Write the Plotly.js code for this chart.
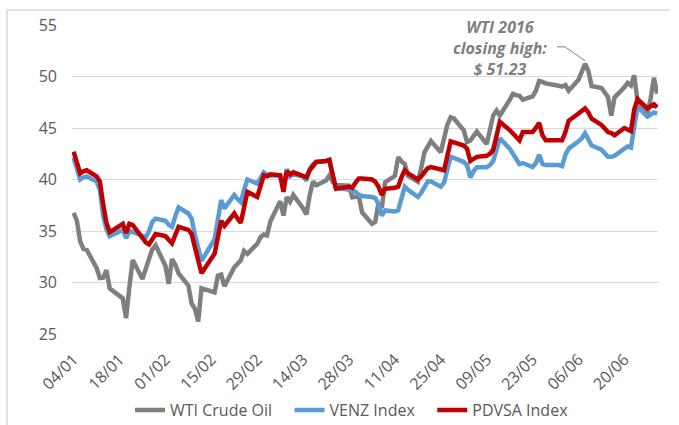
<!DOCTYPE html>
<html>
<head>
<meta charset="utf-8">
<script src="https://cdn.plot.ly/plotly-3.0.1.min.js"></script>
<style>html,body{margin:0;padding:0;background:#fff;}#chart{width:679px;height:425px;}</style>
</head>
<body>
<div id="chart"></div>
<script>
const dates = [
'2016-01-04','2016-01-05','2016-01-06','2016-01-07','2016-01-08',
'2016-01-11','2016-01-12','2016-01-13','2016-01-14','2016-01-15',
'2016-01-19','2016-01-20','2016-01-21','2016-01-22',
'2016-01-25','2016-01-26','2016-01-27','2016-01-28','2016-01-29',
'2016-02-01','2016-02-02','2016-02-03','2016-02-04','2016-02-05',
'2016-02-08','2016-02-09','2016-02-10','2016-02-11','2016-02-12',
'2016-02-16','2016-02-17','2016-02-18','2016-02-19',
'2016-02-22','2016-02-23','2016-02-24','2016-02-25','2016-02-26',
'2016-02-29','2016-03-01','2016-03-02','2016-03-03','2016-03-04',
'2016-03-07','2016-03-08','2016-03-09','2016-03-10','2016-03-11',
'2016-03-14','2016-03-15','2016-03-16','2016-03-17','2016-03-18',
'2016-03-21','2016-03-22','2016-03-23','2016-03-24',
'2016-03-28','2016-03-29','2016-03-30','2016-03-31','2016-04-01',
'2016-04-04','2016-04-05','2016-04-06','2016-04-07','2016-04-08',
'2016-04-11','2016-04-12','2016-04-13','2016-04-14','2016-04-15',
'2016-04-18','2016-04-19','2016-04-20','2016-04-21','2016-04-22',
'2016-04-25','2016-04-26','2016-04-27','2016-04-28','2016-04-29',
'2016-05-02','2016-05-03','2016-05-04','2016-05-05','2016-05-06',
'2016-05-09','2016-05-10','2016-05-11','2016-05-12','2016-05-13',
'2016-05-16','2016-05-17','2016-05-18','2016-05-19','2016-05-20',
'2016-05-23','2016-05-24','2016-05-25','2016-05-26','2016-05-27',
'2016-05-31','2016-06-01','2016-06-02','2016-06-03',
'2016-06-06','2016-06-07','2016-06-08','2016-06-09','2016-06-10',
'2016-06-13','2016-06-14','2016-06-15','2016-06-16','2016-06-17',
'2016-06-20','2016-06-21','2016-06-22','2016-06-23','2016-06-24',
'2016-06-27','2016-06-28','2016-06-29','2016-06-30'];

const wti = [
36.76,35.97,33.97,33.27,33.16,31.41,30.44,30.48,31.20,29.42,28.46,26.55,29.53,32.19,30.34,31.45,32.30,33.22,33.62,
31.62,29.88,32.28,31.72,30.89,29.69,27.94,27.45,26.21,29.44,29.04,30.66,30.77,29.64,31.48,31.87,32.15,33.07,32.78,33.75,
34.40,34.66,34.57,35.92,37.90,36.50,38.29,37.84,38.50,37.18,36.60,38.46,39.80,39.44,39.91,40.40,39.79,39.46,39.39,38.28,38.32,38.34,
36.79,35.70,35.89,37.75,37.26,39.72,40.36,42.17,41.76,41.50,40.36,39.78,41.08,42.63,43.18,43.73,42.64,44.04,45.33,46.03,45.92,
44.78,43.65,43.78,44.32,44.66,43.44,44.66,46.23,46.70,46.21,47.72,48.31,48.19,48.12,47.75,48.08,48.62,49.56,49.48,49.33,49.10,
49.01,49.17,48.62,49.69,50.36,51.23,50.56,49.07,48.88,48.49,48.01,46.21,47.98,48.96,49.37,49.13,50.11,47.64,46.33,47.85,49.88,48.33];

const venz = [
42.1,41.0,40.0,40.2,40.3,39.8,39.0,36.5,35.2,34.5,35.1,34.3,35.0,34.9,34.6,34.4,35.0,35.9,36.2,
36.0,35.6,35.4,36.4,37.3,36.7,36.2,34.6,33.3,32.1,34.2,36.0,38.0,37.2,38.5,38.1,37.8,39.0,40.0,39.6,
40.2,40.7,40.5,40.4,40.4,39.2,41.0,40.3,40.5,40.3,39.9,41.0,41.5,41.7,41.8,41.9,40.4,39.2,39.0,38.9,38.8,38.5,
38.4,38.3,38.2,37.6,36.5,37.0,36.9,37.0,38.3,39.3,39.0,38.3,38.7,39.3,39.8,39.8,39.3,39.7,41.0,42.2,42.1,
41.7,41.4,40.2,40.8,41.2,41.2,41.4,41.8,43.0,44.0,43.0,42.5,42.0,41.5,41.6,41.2,41.6,42.4,41.5,41.4,41.4,
41.3,42.4,43.0,43.7,44.0,44.5,43.9,43.3,42.9,42.6,42.2,42.2,42.3,43.0,43.2,43.1,45.5,47.1,46.1,46.3,46.5,46.4];

const pdvsa = [
42.7,41.5,40.6,40.8,40.9,40.3,39.8,37.6,35.8,34.9,35.7,34.8,35.7,35.6,34.3,33.9,33.7,34.3,34.7,
34.5,34.1,33.8,34.6,35.4,35.1,34.7,33.4,32.1,30.9,32.8,34.5,36.0,35.5,36.7,36.2,35.8,37.3,38.8,38.3,
39.5,40.4,40.3,40.5,40.4,38.8,40.8,40.5,40.7,40.4,40.2,40.9,41.3,41.7,41.8,41.9,40.5,39.1,39.3,39.2,39.7,40.1,
40.1,40.0,39.8,39.3,38.5,39.1,39.2,39.3,40.2,40.9,40.6,40.0,40.3,40.7,41.1,41.2,40.9,40.9,42.3,43.7,43.6,
43.3,43.0,41.8,42.0,42.2,42.3,42.5,42.9,44.3,45.6,44.8,44.5,44.1,43.8,44.6,44.6,45.0,45.5,44.3,43.8,43.8,
43.8,44.6,45.7,46.4,46.6,46.9,46.5,45.9,45.3,45.0,44.6,44.5,44.3,45.0,44.9,44.7,46.8,47.8,46.9,47.1,47.3,47.0];

const seriesNames = ['WTI Crude Oil','VENZ Index','PDVSA Index'];
const seriesColors = ['#7f7f7f','#5b9bd5','#c00000'];
const highDate = '2016-06-08';
const highValue = 51.23;
const highText = 'WTI 2016<br>closing high:<br>$ 51.23';

const FONT = 'Open Sans, Noto Sans, sans-serif';
const PAD = '\u00a0\u00a0\u00a0';
const traces = [wti, venz, pdvsa].map((ys, i) => ({
  type: 'scatter', mode: 'lines', x: dates, y: ys,
  name: seriesNames[i] + (i < 2 ? PAD : ''),
  line: {color: seriesColors[i], width: 4.5}
}));

const W = 679, H = 425, mL = 72, mR = 21, mT = 25, mB = 91;
const pw = W - mL - mR, ph = H - mT - mB;
const px2x = p => (p - mL) / pw;
const py2y = p => (H - mB - p) / ph;

const layout = {
  width: W, height: H,
  margin: {l: mL, r: mR, t: mT, b: mB, pad: 0},
  paper_bgcolor: '#ffffff', plot_bgcolor: '#ffffff',
  font: {family: FONT, color: '#595959'},
  showlegend: true,
  legend: {orientation: 'h', x: px2x(352), xanchor: 'center', yref: 'container', y: 0.035, yanchor: 'middle',
           font: {family: FONT, size: 16, color: '#595959'}, itemwidth: 30, tracegroupgap: 0},
  xaxis: {type: 'date', range: ['2016-01-03 12:00', '2016-06-30 06:00'],
          tick0: '2016-01-04', dtick: 14 * 86400000, tickformat: '%d/%m', tickangle: -45,
          showgrid: false, zeroline: false, showline: false, ticks: '', ticklabelstandoff: 12,
          tickfont: {family: FONT, size: 16, color: '#595959'}},
  yaxis: {range: [25, 55], dtick: 5, tick0: 25, showgrid: true, gridcolor: '#d9d9d9', gridwidth: 1,
          zeroline: false, showline: false, ticks: '', ticklabelstandoff: 14,
          tickfont: {family: FONT, size: 16, color: '#595959'}},
  shapes: [
    {type: 'line', xref: 'paper', yref: 'paper', x0: px2x(7), x1: px2x(670), y0: py2y(10), y1: py2y(10),
     line: {color: '#d9d9d9', width: 1.5}},
    {type: 'line', xref: 'paper', yref: 'paper', x0: px2x(7), x1: px2x(7), y0: py2y(10), y1: py2y(430),
     line: {color: '#d9d9d9', width: 1.5}},
    {type: 'path', xref: 'x', yref: 'y', xsizemode: 'pixel', ysizemode: 'pixel',
     xanchor: highDate, yanchor: highValue, path: 'M-28,17 L-20,17 L0,3',
     line: {color: '#7f7f7f', width: 1}}
  ],
  annotations: [
    {x: highDate, y: highValue, xref: 'x', yref: 'y', showarrow: false, xshift: -85, yshift: 16,
     xanchor: 'center', yanchor: 'middle', align: 'center', text: '<b><i>' + highText.split('<br>').join('</i></b><br><b><i>') + '</i></b>',
     font: {family: FONT, size: 16, color: '#7f7f7f'}}
  ]
};

Plotly.newPlot('chart', traces, layout, {displayModeBar: false, staticPlot: true});
</script>
</body>
</html>
